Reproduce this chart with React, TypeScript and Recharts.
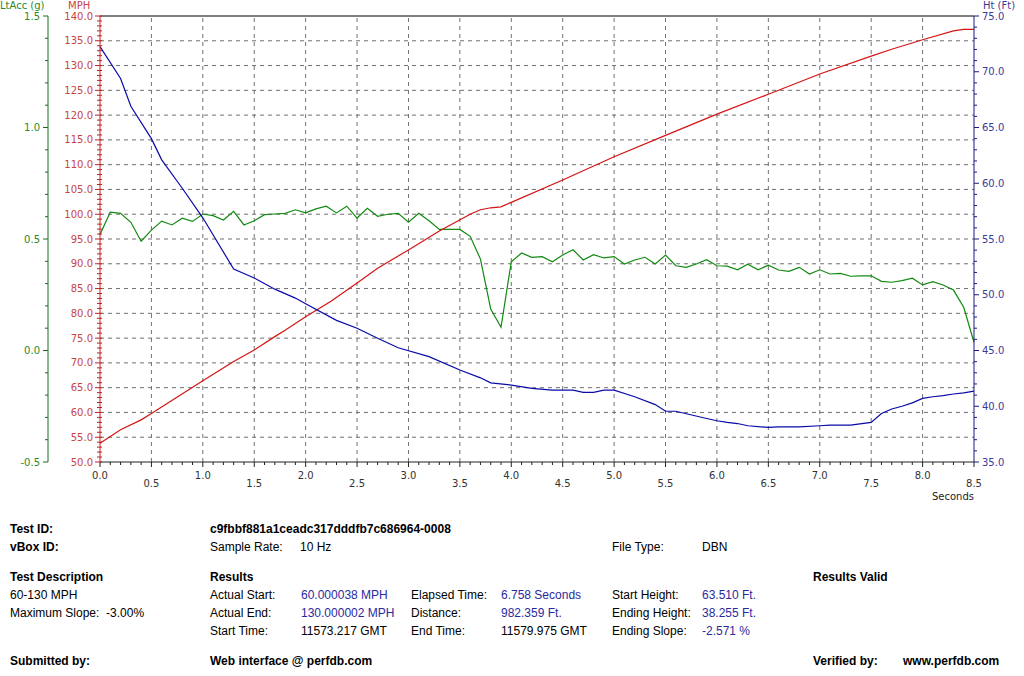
import { LineChart, Line, XAxis, YAxis, ReferenceLine } from "recharts";

// LtAcc (g), one point per 0.1 s
const accTime = [
  0.0, 0.1, 0.2, 0.3, 0.4, 0.5, 0.6, 0.7, 0.8, 0.9,
  1.0, 1.1, 1.2, 1.3, 1.4, 1.5, 1.6, 1.7, 1.8, 1.9,
  2.0, 2.1, 2.2, 2.3, 2.4, 2.5, 2.6, 2.7, 2.8, 2.9,
  3.0, 3.1, 3.2, 3.3, 3.4, 3.5, 3.6, 3.7, 3.8, 3.9,
  4.0, 4.1, 4.2, 4.3, 4.4, 4.5, 4.6, 4.7, 4.8, 4.9,
  5.0, 5.1, 5.2, 5.3, 5.4, 5.5, 5.6, 5.7, 5.8, 5.9,
  6.0, 6.1, 6.2, 6.3, 6.4, 6.5, 6.6, 6.7, 6.8, 6.9,
  7.0, 7.1, 7.2, 7.3, 7.4, 7.5, 7.6, 7.7, 7.8, 7.9,
  8.0, 8.1, 8.2, 8.3, 8.4, 8.5,
];
const accG = [
  0.52, 0.62, 0.615, 0.575, 0.49, 0.54, 0.58, 0.563, 0.593, 0.579,
  0.612, 0.605, 0.585, 0.624, 0.563, 0.582, 0.609, 0.612, 0.615, 0.631,
  0.617, 0.635, 0.647, 0.617, 0.647, 0.594, 0.638, 0.602, 0.611, 0.615,
  0.575, 0.615, 0.582, 0.543, 0.543, 0.543, 0.512, 0.41, 0.186, 0.104,
  0.398, 0.437, 0.418, 0.421, 0.398, 0.428, 0.452, 0.406, 0.43, 0.415,
  0.421, 0.388, 0.406, 0.418, 0.388, 0.428, 0.38, 0.373, 0.388, 0.407,
  0.38, 0.378, 0.362, 0.387, 0.362, 0.383, 0.361, 0.355, 0.373, 0.343,
  0.362, 0.343, 0.346, 0.333, 0.335, 0.335, 0.31, 0.306, 0.313, 0.324,
  0.294, 0.309, 0.294, 0.271, 0.194, 0.037,
];

// speed (MPH)
const mphTime = [
  0, 0.2, 0.4, 0.5, 1.0, 1.3, 1.5, 1.7, 1.8, 2.0, 2.25, 2.5, 2.7, 3.0, 3.3,
  3.6, 3.7, 3.8, 3.9, 4.0, 4.5, 5.0, 5.5, 6.0, 6.5, 7.0, 7.5, 7.7, 8.0, 8.3,
  8.4, 8.5,
];
const mphValues = [
  53.8, 56.5, 58.5, 59.8, 66.4, 70.3, 72.6, 75.3, 76.6, 79.3, 82.5, 86.1,
  89.1, 92.8, 96.6, 100.0, 100.9, 101.3, 101.5, 102.4, 106.9, 111.6, 115.9,
  120.2, 124.2, 128.3, 131.9, 133.3, 135.2, 137.0, 137.3, 137.3,
];

// height (Ft)
const htTime = [
  0, 0.2, 0.3, 0.5, 0.6, 0.8, 1.0, 1.3, 1.5, 1.7, 1.9, 2.0, 2.3, 2.5, 2.7,
  2.9, 3.2, 3.5, 3.7, 3.8, 4.0, 4.2, 4.4, 4.6, 4.7, 4.8, 4.9, 5.0, 5.2, 5.4,
  5.5, 5.6, 5.9, 6.0, 6.1, 6.2, 6.3, 6.5, 6.6, 6.8, 7.0, 7.1, 7.3, 7.5, 7.6,
  7.7, 7.8, 7.9, 8.0, 8.1, 8.2, 8.3, 8.4, 8.5,
];
const htValues = [
  72.25, 69.4, 66.9, 64.0, 62.1, 59.55, 56.9, 52.3, 51.5, 50.5, 49.7, 49.2,
  47.7, 47.0, 46.1, 45.25, 44.45, 43.25, 42.55, 42.1, 41.9, 41.6, 41.45,
  41.45, 41.25, 41.25, 41.45, 41.45, 40.85, 40.15, 39.55, 39.55, 38.9, 38.7,
  38.55, 38.45, 38.25, 38.1, 38.15, 38.15, 38.25, 38.3, 38.3, 38.55, 39.35,
  39.75, 40.0, 40.3, 40.7, 40.85, 40.95, 41.1, 41.2, 41.35,
];

const secondsGrid = [0.5, 1, 1.5, 2, 2.5, 3, 3.5, 4, 4.5, 5, 5.5, 6, 6.5, 7, 7.5, 8];
const mphGrid = [55, 60, 65, 70, 75, 80, 85, 90, 95, 100, 105, 110, 115, 120, 125, 130, 135];

const range = (from: number, to: number, div: number) => {
  const out: number[] = [];
  for (let i = from; i <= to; i++) out.push(i / div);
  return out;
};
const secondsTicks = range(0, 85, 10);
const mphTicks = range(50, 140, 1);
const accTicks = range(-5, 15, 10);
const htTicks = range(35, 75, 1);

const accData = accTime.map((t, i) => ({ t, v: accG[i] }));
const mphData = mphTime.map((t, i) => ({ t, v: mphValues[i] }));
const htData = htTime.map((t, i) => ({ t, v: htValues[i] }));

// left axes are stacked by id order: first id sits next to the plot
const MPH = "a-mph";
const ACC = "b-acc";
const HT = "c-ht";

const isStep = (v: number, step: number) =>
  Math.abs(v / step - Math.round(v / step)) < 1e-6;

const tickFont = { fontFamily: "DejaVu Sans", fontSize: 10 };

const XTick = ({ x, y, payload }: any) => {
  const v = payload.value;
  const major = isStep(v, 0.5);
  return (
    <g>
      <line x1={x} x2={x} y1={y} y2={y + (major ? 5 : 3)} stroke="#222" />
      {major && (
        <text x={x} y={y + (isStep(v, 1) ? 17 : 25)} textAnchor="middle" fill="#333" style={tickFont}>
          {v.toFixed(1)}
        </text>
      )}
    </g>
  );
};

const MphTick = ({ x, y, payload }: any) => {
  const v = payload.value;
  const major = isStep(v, 5);
  return (
    <g>
      <line x1={x - (major ? 5 : 3)} x2={x + 2} y1={y} y2={y} stroke="#c02020" />
      {major && (
        <text x={x - 7} y={y + 3.5} textAnchor="end" fill="#c84444" style={tickFont}>
          {v.toFixed(1)}
        </text>
      )}
    </g>
  );
};

const AccTick = ({ x, y, payload }: any) => {
  const v = payload.value;
  const major = isStep(v, 0.5);
  return (
    <g>
      <line x1={x - (major ? 5 : 3)} x2={x} y1={y} y2={y} stroke="#1a6e1a" />
      {major && (
        <text x={x - 8} y={y + 3.5} textAnchor="end" fill="#2a8a2a" style={tickFont}>
          {v.toFixed(1)}
        </text>
      )}
    </g>
  );
};

const HtTick = ({ x, y, payload }: any) => {
  const v = payload.value;
  const major = isStep(v, 5);
  return (
    <g>
      <line x1={x} x2={x + (major ? 5 : 3)} y1={y} y2={y} stroke="#1a1a80" />
      {major && (
        <text x={x + 8} y={y + 3.5} textAnchor="start" fill="#3a3a9a" style={tickFont}>
          {v.toFixed(1)}
        </text>
      )}
    </g>
  );
};

const label = (text: string, left: number, top: number, opts: any = {}) => (
  <div
    style={{
      position: "absolute",
      left,
      top,
      whiteSpace: "pre",
      fontFamily: "Liberation Sans, Arial, sans-serif",
      fontSize: 12,
      lineHeight: "14px",
      color: "#000",
      ...opts,
    }}
  >
    {text}
  </div>
);

const blue = { color: "#2a2aa0" };
const bold = { fontWeight: "bold" };
const axisTitle = { fontFamily: "DejaVu Sans", fontSize: 10, lineHeight: "12px" };

export default function App() {
  return (
    <div style={{ position: "absolute", left: 0, top: 0, width: 1024, height: 676, background: "#fff" }}>
      <LineChart width={1024} height={505} margin={{ top: 16, right: 0, bottom: 5, left: 0 }}>
        <XAxis
          dataKey="t"
          type="number"
          domain={[0, 8.5]}
          ticks={secondsTicks}
          interval={0}
          tick={(p: any) => <XTick {...p} />}
          tickLine={false}
          tickSize={0}
          tickMargin={0}
          height={38}
          axisLine={{ stroke: "#222" }}
          allowDuplicatedCategory={false}
        />
        <YAxis
          yAxisId={MPH}
          orientation="left"
          width={52}
          domain={[50, 140]}
          ticks={mphTicks}
          interval={0}
          tick={(p: any) => <MphTick {...p} />}
          tickLine={false}
          tickSize={0}
          tickMargin={0}
          axisLine={{ stroke: "#cc2020" }}
        />
        <YAxis
          yAxisId={ACC}
          orientation="left"
          width={48}
          domain={[-0.5, 1.5]}
          ticks={accTicks}
          interval={0}
          tick={(p: any) => <AccTick {...p} />}
          tickLine={false}
          tickSize={0}
          tickMargin={0}
          axisLine={{ stroke: "#1a6e1a" }}
        />
        <YAxis
          yAxisId={HT}
          orientation="right"
          width={50}
          domain={[35, 75]}
          ticks={htTicks}
          interval={0}
          tick={(p: any) => <HtTick {...p} />}
          tickLine={false}
          tickSize={0}
          tickMargin={0}
          axisLine={{ stroke: "#1a1a80" }}
        />
        {secondsGrid.map((s) => (
          <ReferenceLine key={"x" + s} x={s} yAxisId={MPH} stroke="#707070" strokeDasharray="4 4" />
        ))}
        {mphGrid.map((m) => (
          <ReferenceLine key={"y" + m} y={m} yAxisId={MPH} stroke="#707070" strokeDasharray="4 4" />
        ))}
        <ReferenceLine y={140} yAxisId={MPH} stroke="#000" />
        <Line
          data={accData}
          dataKey="v"
          yAxisId={ACC}
          type="linear"
          stroke="#108a10"
          strokeWidth={1.2}
          dot={false}
          isAnimationActive={false}
        />
        <Line
          data={mphData}
          dataKey="v"
          yAxisId={MPH}
          type="linear"
          stroke="#d41414"
          strokeWidth={1.2}
          dot={false}
          isAnimationActive={false}
        />
        <Line
          data={htData}
          dataKey="v"
          yAxisId={HT}
          type="linear"
          stroke="#0a0aa8"
          strokeWidth={1.2}
          dot={false}
          isAnimationActive={false}
        />
      </LineChart>

      {label("LtAcc (g)", 0, 0, { ...axisTitle, color: "#2a8a2a" })}
      {label("MPH", 68, 0, { ...axisTitle, color: "#c84444" })}
      {label("Ht (Ft)", 983, 0, { ...axisTitle, color: "#3a3a9a" })}
      {label("Seconds", 932, 491, { ...axisTitle, color: "#222" })}

      {label("Test ID:", 10, 522, bold)}
      {label("c9fbbf881a1ceadc317dddfb7c686964-0008", 210, 522, bold)}
      {label("vBox ID:", 10, 540, bold)}
      {label("Sample Rate:", 210, 540)}
      {label("10 Hz", 300, 540)}
      {label("File Type:", 612, 540)}
      {label("DBN", 702, 540)}

      {label("Test Description", 10, 570, bold)}
      {label("Results", 210, 570, bold)}
      {label("Results Valid", 813, 570, bold)}

      {label("60-130 MPH", 10, 588)}
      {label("Actual Start:", 210, 588)}
      {label("60.000038 MPH", 301, 588, blue)}
      {label("Elapsed Time:", 411, 588)}
      {label("6.758 Seconds", 501, 588, blue)}
      {label("Start Height:", 612, 588)}
      {label("63.510 Ft.", 702, 588, blue)}

      {label("Maximum Slope:  -3.00%", 10, 606)}
      {label("Actual End:", 210, 606)}
      {label("130.000002 MPH", 301, 606, blue)}
      {label("Distance:", 411, 606)}
      {label("982.359 Ft.", 501, 606, blue)}
      {label("Ending Height:", 612, 606)}
      {label("38.255 Ft.", 702, 606, blue)}

      {label("Start Time:", 210, 624)}
      {label("11573.217 GMT", 301, 624)}
      {label("End Time:", 411, 624)}
      {label("11579.975 GMT", 501, 624)}
      {label("Ending Slope:", 612, 624)}
      {label("-2.571 %", 702, 624, blue)}

      {label("Submitted by:", 10, 654, bold)}
      {label("Web interface @ perfdb.com", 210, 654, bold)}
      {label("Verified by:", 813, 654, bold)}
      {label("www.perfdb.com", 903, 654, bold)}
    </div>
  );
}
